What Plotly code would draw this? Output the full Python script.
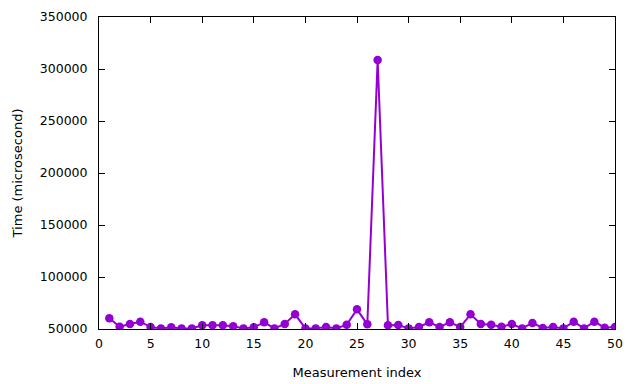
import plotly.graph_objects as go

measurement_index = list(range(1, 51))
time_us = [
    60300, 52200, 54800, 57000, 51900, 50600, 51600, 50600, 50600, 53500,
    53500, 53500, 52700, 50600, 51600, 56400, 50600, 54800, 64100, 50600,
    50600, 51900, 50600, 54100, 68900, 54500, 308600, 53500, 53800, 50600,
    51900, 56400, 51900, 56400, 51900, 64100, 54800, 54100, 52200, 54800,
    50600, 55800, 51000, 51900, 50600, 57000, 50600, 57000, 51300, 51900,
]
x_ticks = list(range(0, 51, 5))
y_ticks = list(range(50000, 350001, 50000))
y_tick_labels = [str(v) for v in y_ticks]

color = "#9400D3"
font = dict(family="DejaVu Sans", size=13, color="black")
tick_font = dict(family="DejaVu Sans", size=12.5, color="black")

fig = go.Figure()
fig.add_trace(go.Scatter(
    x=measurement_index, y=time_us, mode="lines+markers",
    line=dict(color=color, width=2),
    marker=dict(color=color, size=8.5),
    showlegend=False,
))

axis_common = dict(
    showline=True, linecolor="black", linewidth=1, mirror="ticks",
    ticks="inside", ticklen=6, tickcolor="black", tickwidth=1,
    showgrid=False, zeroline=False, tickfont=tick_font, automargin=False,
)
fig.update_xaxes(range=[0, 50], tickvals=x_ticks, ticklabelstandoff=3,
                 title=dict(text="Measurement index", font=font, standoff=17),
                 **axis_common)
fig.update_yaxes(range=[50000, 350000], tickvals=y_ticks, ticktext=y_tick_labels,
                 ticklabelstandoff=8,
                 title=dict(text="Time (microsecond)", font=font, standoff=14),
                 **axis_common)
# page body has an 8px margin, so the figure is 8px smaller and margins shifted
fig.update_layout(
    width=632, height=376,
    margin=dict(l=91, r=25, t=9, b=55),
    paper_bgcolor="white", plot_bgcolor="white",
    font=font,
)
fig.write_html("out.html")
